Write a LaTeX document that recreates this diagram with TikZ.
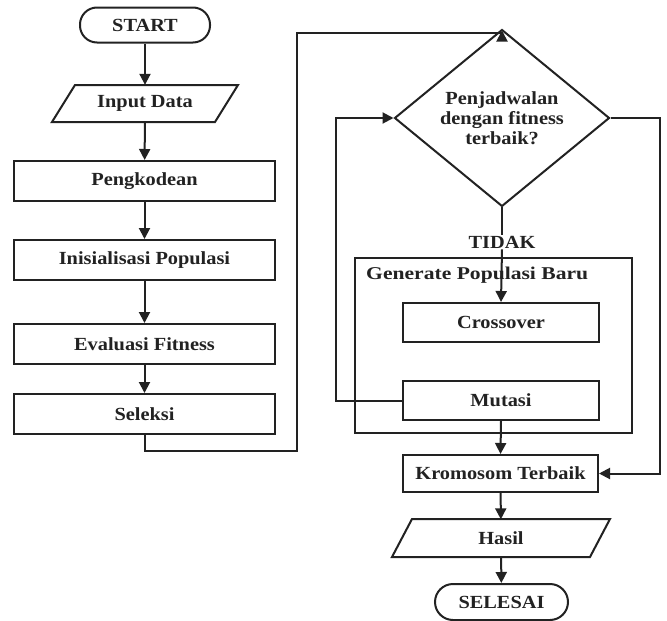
\documentclass[tikz,border=0pt]{standalone}
\usepackage{fontspec}
\setmainfont{Liberation Serif}[FakeStretch=1.1]
\newfontfamily\genfont{Liberation Serif}[FakeStretch=1.2]
\usetikzlibrary{shapes.geometric,arrows.meta,calc}
\definecolor{ink}{HTML}{222222}
\tikzset{
  every node/.style={font=\fontsize{18.5}{21}\selectfont\bfseries, text=ink},
  line/.style={draw=ink, line width=2pt},
  arr/.style={line, -{Triangle[length=11pt,width=11pt]}},
  proc/.style={line, rectangle, minimum width=261pt, minimum height=40pt, inner sep=0pt},
  sproc/.style={line, rectangle, minimum width=196pt, minimum height=39pt, inner sep=0pt},
  term/.style={line, rectangle, rounded corners=17pt, minimum height=35pt, inner sep=0pt},
  iotext/.style={rectangle, minimum height=37pt, minimum width=140pt, inner sep=0pt},
}
\begin{document}
\begin{tikzpicture}[x=1pt,y=-1pt]
\useasboundingbox[fill=white] (0,0) rectangle (667,621);

% left column
\node[term, minimum width=130pt] (start) at (145,25) {START};
\node[iotext] (in) at (145,103.5) {Input Data};
\draw[line] (75,85) -- (238,85) -- (215,122) -- (52,122) -- cycle;
\node[proc] (pk) at (144.5,181) {Pengkodean};
\node[proc] (ini) at (144.5,260) {Inisialisasi Populasi};
\node[proc] (ev) at (144.5,344) {Evaluasi Fitness};
\node[proc] (sel) at (144.5,414) {Seleksi};

% right column
\node[line, diamond, minimum width=215pt, minimum height=128pt, inner sep=0pt, align=center] (dia) at (502,118)
  {Penjadwalan\\[-1pt]dengan fitness\\[-1pt]terbaik?};
\node[inner sep=1pt] (tidak) at (502,242) {TIDAK};
\node[line, rectangle, minimum width=277pt, minimum height=175pt, inner sep=0pt] (gen) at (493.5,345.5) {};
\node[anchor=west, inner sep=0pt, font=\fontsize{18}{21}\selectfont\genfont\bfseries] (genlbl) at (366,275) {Generate Populasi Baru};
\node[sproc] (cro) at (501,322.5) {Crossover};
\node[sproc] (mut) at (501,400.5) {Mutasi};
\node[sproc, minimum width=195pt, minimum height=37pt] (kro) at (500.5,473.5) {Kromosom Terbaik};
\node[iotext] (has) at (501,538) {Hasil};
\draw[line] (412,519) -- (610,519) -- (590,557) -- (392,557) -- cycle;
\node[term, minimum width=133pt, minimum height=36pt, rounded corners=18pt] (end) at (501.5,602) {SELESAI};

% helper coordinates
\coordinate (c1) at (297,451);
\coordinate (c2) at (297,33);
\coordinate (c3) at (660,473.5);
\coordinate (c4) at (336,400.5);

% connectors
\draw[arr] (start) -- (in);
\draw[arr] (in) -- (pk);
\draw[arr] (pk) -- (ini);
\draw[arr] (ini) -- (ev);
\draw[arr] (ev) -- (sel);
\draw[arr, shorten >=2pt] (sel.south) |- (c1) -- (c2) -| (dia.north);
\draw[line] (dia.south) -- (tidak.north);
\draw[arr] (tidak.south) -- (cro.north);
\draw[arr] (mut.west) -- (c4) |- (dia.west);
\draw[arr] (dia.east) -| (c3) -- (kro.east);
\draw[arr] (mut.south) -- (kro.north);
\draw[arr] (kro) -- (has);
\draw[arr] (has) -- (end);
\end{tikzpicture}
\end{document}
